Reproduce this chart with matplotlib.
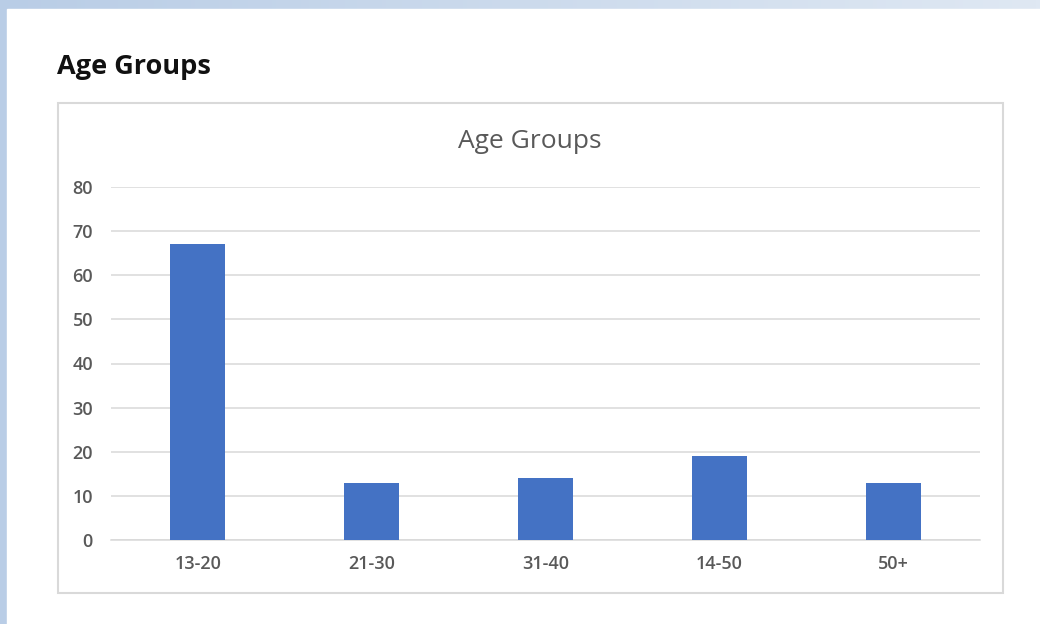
import numpy as np
import matplotlib.pyplot as plt
from matplotlib.patches import Rectangle

categories = ['13-20', '21-30', '31-40', '14-50', '50+']
counts = [67, 13, 14, 19, 13]
y_ticks = [0, 10, 20, 30, 40, 50, 60, 70, 80]

W, H = 1040, 624
fig = plt.figure(figsize=(W / 100, H / 100), dpi=100)

# screenshot background: light blue band on top and left
bg = fig.add_axes([0, 0, 1, 1])
grad = np.linspace(0, 1, 256).reshape(1, -1)
bg.imshow(grad, extent=[0, W, 0, H], aspect='auto',
          cmap=plt.matplotlib.colors.LinearSegmentedColormap.from_list('b', ['#b9cde6', '#dfe8f3']))
bg.add_patch(Rectangle((7, 0), W - 7, H - 9, color='white'))
bg.add_patch(Rectangle((58, H - 593), 1003 - 58, 593 - 103, fill=False,
                       edgecolor='#d9d9d9', lw=1.5))
bg.set_xlim(0, W)
bg.set_ylim(0, H)
bg.axis('off')

fig.text(57 / W, 1 - 67 / H, 'Age Groups', fontsize=19.5, fontweight='bold',
         family=['Open Sans', 'DejaVu Sans'], color='#111111', va='center', ha='left')

# plot area in pixels: x 111..980, y 187..540
ax = fig.add_axes([111 / W, 1 - 540 / H, (980 - 111) / W, (540 - 187) / H])
ax.set_facecolor('none')
x = np.arange(len(categories))
ax.bar(x, counts, width=0.317, color='#4472c4', zorder=3)
ax.set_xlim(-0.5, len(categories) - 0.5)
ax.set_ylim(0, 80)
ax.set_yticks(y_ticks)
ax.set_xticks(x)
ax.set_xticklabels(categories)
ax.yaxis.grid(True, color='#d9d9d9', lw=1.1, zorder=0)
ax.set_axisbelow(True)
for s in ['top', 'right', 'left']:
    ax.spines[s].set_visible(False)
ax.spines['bottom'].set_color('#d9d9d9')
ax.spines['bottom'].set_linewidth(1.1)
ax.tick_params(length=0, colors='#595959', labelsize=13)
ax.tick_params(axis='y', pad=13)
ax.tick_params(axis='x', pad=11)
for lab in ax.get_xticklabels() + ax.get_yticklabels():
    lab.set_fontweight('semibold')
    lab.set_family(['Open Sans', 'DejaVu Sans'])

fig.text(530 / W, 1 - 142 / H, 'Age Groups', fontsize=19, color='#595959',
         family=['Open Sans', 'DejaVu Sans'], ha='center', va='center')

fig.savefig('out.png', dpi=100)
